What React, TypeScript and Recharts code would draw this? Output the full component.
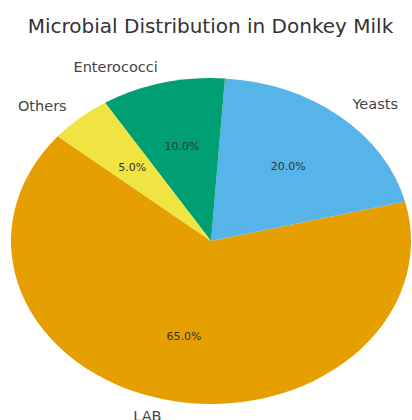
import { PieChart, Pie, Cell } from 'recharts';

const categories = ['LAB', 'Yeasts', 'Enterococci', 'Others'];
const shares = [65, 20, 10, 5];
const colors = ['#E69F00', '#56B4E9', '#009E73', '#F0E442'];

const data = categories.map((name, i) => ({ name, value: shares[i] }));

// the reference pie is squashed vertically, so sectors are drawn as ellipses
const SQUASH = 0.815;
const RAD = Math.PI / 180;
const FONT = '"DejaVu Sans", sans-serif';

function EllipseSector(props: any) {
  const { cx, cy, outerRadius, startAngle, endAngle, fill } = props;
  const rx = outerRadius;
  const ry = outerRadius * SQUASH;
  const p = (a: number) => [cx + rx * Math.cos(a * RAD), cy - ry * Math.sin(a * RAD)];
  const [x1, y1] = p(startAngle);
  const [x2, y2] = p(endAngle);
  const large = Math.abs(endAngle - startAngle) > 180 ? 1 : 0;
  const d = `M${cx},${cy} L${x1},${y1} A${rx},${ry} 0 ${large} 0 ${x2},${y2} Z`;
  return <path d={d} fill={fill} stroke="none" />;
}

function renderLabel(props: any) {
  const { cx, cy, midAngle, outerRadius, name, percent } = props;
  const cos = Math.cos(midAngle * RAD);
  const sin = Math.sin(midAngle * RAD);
  const lx = cx + 1.1 * outerRadius * cos;
  const ly = cy - 1.1 * outerRadius * SQUASH * sin;
  const px = cx + 0.6 * outerRadius * cos;
  const py = cy - 0.6 * outerRadius * SQUASH * sin;
  return (
    <g>
      <text x={lx} y={ly} textAnchor={cos > 0 ? 'start' : 'end'} dominantBaseline="central"
        fontFamily={FONT} fontSize={14.5} fill="#444">{name}</text>
      <text x={px} y={py} textAnchor="middle" dominantBaseline="central"
        fontFamily={FONT} fontSize={11} fill="#333">{(percent * 100).toFixed(1)}%</text>
    </g>
  );
}

export default function App() {
  return (
    <div style={{ position: 'absolute', left: 0, top: 0, width: 412, height: 420, background: '#fff' }}>
      <PieChart width={412} height={420} margin={{ top: 0, right: 0, bottom: 0, left: 0 }}>
        <text x={210.5} y={26} textAnchor="middle" dominantBaseline="central"
          fontFamily={FONT} fontSize={20} fill="#333">Microbial Distribution in Donkey Milk</text>
        <Pie
          data={data}
          dataKey="value"
          nameKey="name"
          cx={211}
          cy={241}
          outerRadius={200}
          startAngle={140}
          endAngle={500}
          shape={EllipseSector}
          label={renderLabel}
          labelLine={false}
          isAnimationActive={false}
        >
          {data.map((d, i) => <Cell key={d.name} fill={colors[i]} />)}
        </Pie>
      </PieChart>
    </div>
  );
}
